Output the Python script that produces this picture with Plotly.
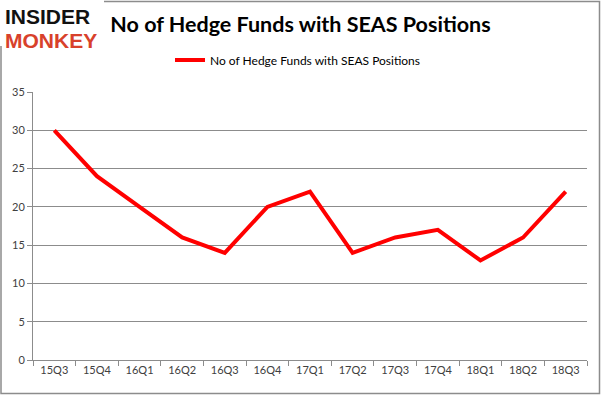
import plotly.graph_objects as go

quarters = ["15Q3", "15Q4", "16Q1", "16Q2", "16Q3", "16Q4", "17Q1",
            "17Q2", "17Q3", "17Q4", "18Q1", "18Q2", "18Q3"]
hedge_funds = [30, 24, 20, 16, 14, 20, 22, 14, 16, 17, 13, 16, 22]
y_ticks = [0, 5, 10, 15, 20, 25, 30, 35]
series_name = "No of Hedge Funds with SEAS Positions"

W, H = 601, 396
L, R, T, B = 33, 14, 92, 36
pw, ph = W - L - R, H - T - B


def px_x(px):
    return (px - L) / pw


def px_y(py):
    return (H - B - py) / ph


fig = go.Figure()
fig.add_trace(go.Scatter(
    x=quarters, y=hedge_funds, mode="lines", name=series_name,
    line=dict(color="#ff0000", width=4),
))

grid = "#8c8c8c"
fig.update_layout(
    width=W, height=H, autosize=False,
    margin=dict(l=L, r=R, t=T, b=B, autoexpand=False),
    paper_bgcolor="white", plot_bgcolor="white",
    font=dict(family="Lato, Arial, sans-serif", color="#404040", size=11),
    title=dict(text="<b>No of Hedge Funds with SEAS Positions</b>",
               x=0.5, xref="container", xanchor="center",
               y=1 - 24 / H, yref="container", yanchor="middle",
               font=dict(family="Lato, Arial, sans-serif", size=21.5, color="#000000")),
    showlegend=True,
    legend=dict(orientation="h", x=px_x(298), xanchor="center",
                y=px_y(60), yanchor="middle",
                font=dict(size=12, color="#000000"),
                bgcolor="rgba(0,0,0,0)"),
    xaxis=dict(type="category", range=[-0.5, 12.5], automargin=False,
               showgrid=False, showline=True, linecolor=grid, linewidth=1,
               ticks="outside", tickson="boundaries", ticklen=5, tickcolor=grid,
               tickangle=0,
               tickfont=dict(size=11, color="#404040"), fixedrange=True),
    yaxis=dict(range=[0, 35], tickvals=y_ticks, showgrid=True, gridcolor=grid,
               gridwidth=1, showline=True, linecolor=grid, linewidth=1,
               automargin=False,
               ticks="outside", ticklen=5, tickcolor=grid, zeroline=False,
               tickfont=dict(size=11, color="#404040"), fixedrange=True),
)

# outer border
fig.add_shape(type="rect", xref="paper", yref="paper",
              x0=px_x(1), x1=px_x(599.5), y0=px_y(393.5), y1=px_y(1.5),
              line=dict(color="#8c8c8c", width=1.5), fillcolor="rgba(0,0,0,0)",
              layer="below")
# logo background
fig.add_shape(type="rect", xref="paper", yref="paper",
              x0=px_x(0), x1=px_x(104), y0=px_y(46), y1=px_y(0),
              line=dict(width=0), fillcolor="white", layer="below")

fig.add_annotation(text="<b>INSIDER</b>", xref="paper", yref="paper",
                   x=px_x(3), y=px_y(16), xanchor="left", yanchor="middle",
                   showarrow=False,
                   font=dict(family="Liberation Sans", size=21, color="#111111"))
fig.add_annotation(text="<b>MONKEY</b>", xref="paper", yref="paper",
                   x=px_x(3), y=px_y(40), xanchor="left", yanchor="middle",
                   showarrow=False,
                   font=dict(family="Liberation Sans", size=21, color="#d8412b"))

fig.write_html("out.html",
               config={"displayModeBar": False},
               post_script="document.body.style.margin='0';"
                           "document.body.style.overflow='hidden';")
